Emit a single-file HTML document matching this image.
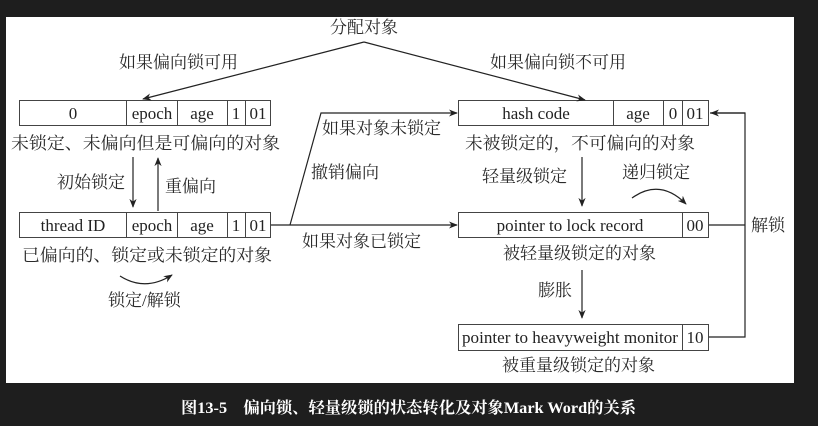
<!DOCTYPE html>
<html><head><meta charset="utf-8"><style>
html,body{margin:0;padding:0;background:#1e1e1e;}
svg{display:block;}
.t{font-family:"Liberation Serif","Noto Serif CJK SC",serif;fill:#222;}
.c{font-family:"Liberation Serif","Noto Serif CJK SC","Noto Serif CJK JP",serif;fill:#2a2a2a;font-size:17px;}
</style></head><body>
<svg width="818" height="426" viewBox="0 0 818 426" xmlns="http://www.w3.org/2000/svg">
<defs>
<marker id="a" viewBox="0 0 10 10" refX="9" refY="5" markerWidth="9" markerHeight="9" orient="auto-start-reverse" markerUnits="userSpaceOnUse"><path d="M0,1 L10,5 L0,9 L3,5 z" fill="#222"/></marker>
</defs>
<rect x="0" y="0" width="818" height="426" fill="#1e1e1e"/>
<rect x="6" y="17" width="788" height="366" fill="#fff"/>
<g stroke="#444" stroke-width="1" fill="none">
<rect x="19.5" y="100.5" width="251" height="25"/>
<path d="M126.5 100v26M177.5 100v26M227.5 100v26M245.5 100v26"/>
<rect x="19.5" y="212.5" width="251" height="25"/>
<path d="M126.5 212v26M177.5 212v26M227.5 212v26M245.5 212v26"/>
<rect x="458.5" y="100.5" width="250" height="25"/>
<path d="M613.5 100v26M663.5 100v26M682.5 100v26"/>
<rect x="458.5" y="212.5" width="250" height="25"/>
<path d="M682.5 212v26"/>
<rect x="458.5" y="324.5" width="250" height="26"/>
<path d="M682.5 324v27"/>
</g>
<g stroke="#222" stroke-width="1.2" fill="none">
<path d="M364 42 L143 99" marker-end="url(#a)"/>
<path d="M364 42 L585 100" marker-end="url(#a)"/>
<path d="M133 157 L133 207" marker-end="url(#a)"/>
<path d="M158 211 L158 158" marker-end="url(#a)"/>
<path d="M271 225 L457 225" marker-end="url(#a)"/>
<path d="M290 225 L321 113 L457 113" marker-end="url(#a)"/>
<path d="M582 157 L582 206" marker-end="url(#a)"/>
<path d="M582 270 L582 318" marker-end="url(#a)"/>
<path d="M709 225 H745 M709 337 H745 V113 H710" />
<path d="M745 113 L711 113" marker-end="url(#a)"/>
<path d="M120 276 Q145 292 172 275" marker-end="url(#a)"/>
<path d="M632 198 Q660 178 686 204" marker-end="url(#a)"/>
</g>
<g class="t" font-size="17" text-anchor="middle">
<text x="73" y="119">0</text>
<text x="152" y="119">epoch</text>
<text x="202" y="119">age</text>
<text x="236" y="119">1</text>
<text x="258" y="119">01</text>
<text x="73" y="231">thread ID</text>
<text x="152" y="231">epoch</text>
<text x="202" y="231">age</text>
<text x="236" y="231">1</text>
<text x="258" y="231">01</text>
<text x="536" y="119">hash code</text>
<text x="638" y="119">age</text>
<text x="673" y="119">0</text>
<text x="695" y="119">01</text>
<text x="570" y="231">pointer to lock record</text>
<text x="695" y="231">00</text>
<text x="570" y="343" textLength="216" lengthAdjust="spacingAndGlyphs">pointer to heavyweight monitor</text>
<text x="695" y="343">10</text>
</g>
<g class="c">
<text x="330" y="33">分配对象</text>
<text x="119" y="68">如果偏向锁可用</text>
<text x="490" y="68">如果偏向锁不可用</text>
<text x="11" y="149" textLength="269" lengthAdjust="spacingAndGlyphs">未锁定、未偏向但是可偏向的对象</text>
<text x="57" y="188">初始锁定</text>
<text x="165" y="192">重偏向</text>
<text x="22" y="261" textLength="250" lengthAdjust="spacingAndGlyphs">已偏向的、锁定或未锁定的对象</text>
<text x="108" y="306">锁定/解锁</text>
<text x="322" y="134">如果对象未锁定</text>
<text x="311" y="178">撤销偏向</text>
<text x="302" y="247">如果对象已锁定</text>
<text x="465" y="149" textLength="230" lengthAdjust="spacingAndGlyphs">未被锁定的，不可偏向的对象</text>
<text x="482" y="182">轻量级锁定</text>
<text x="622" y="178">递归锁定</text>
<text x="503" y="259">被轻量级锁定的对象</text>
<text x="538" y="296">膨胀</text>
<text x="502" y="371">被重量级锁定的对象</text>
<text x="751" y="231">解锁</text>
</g>
<text x="181" y="413" textLength="455" lengthAdjust="spacingAndGlyphs" font-family="'Liberation Serif','Noto Serif CJK SC',serif" font-weight="bold" font-size="16" fill="#fff">图13-5　偏向锁、轻量级锁的状态转化及对象Mark Word的关系</text>
</svg>
</body></html>
